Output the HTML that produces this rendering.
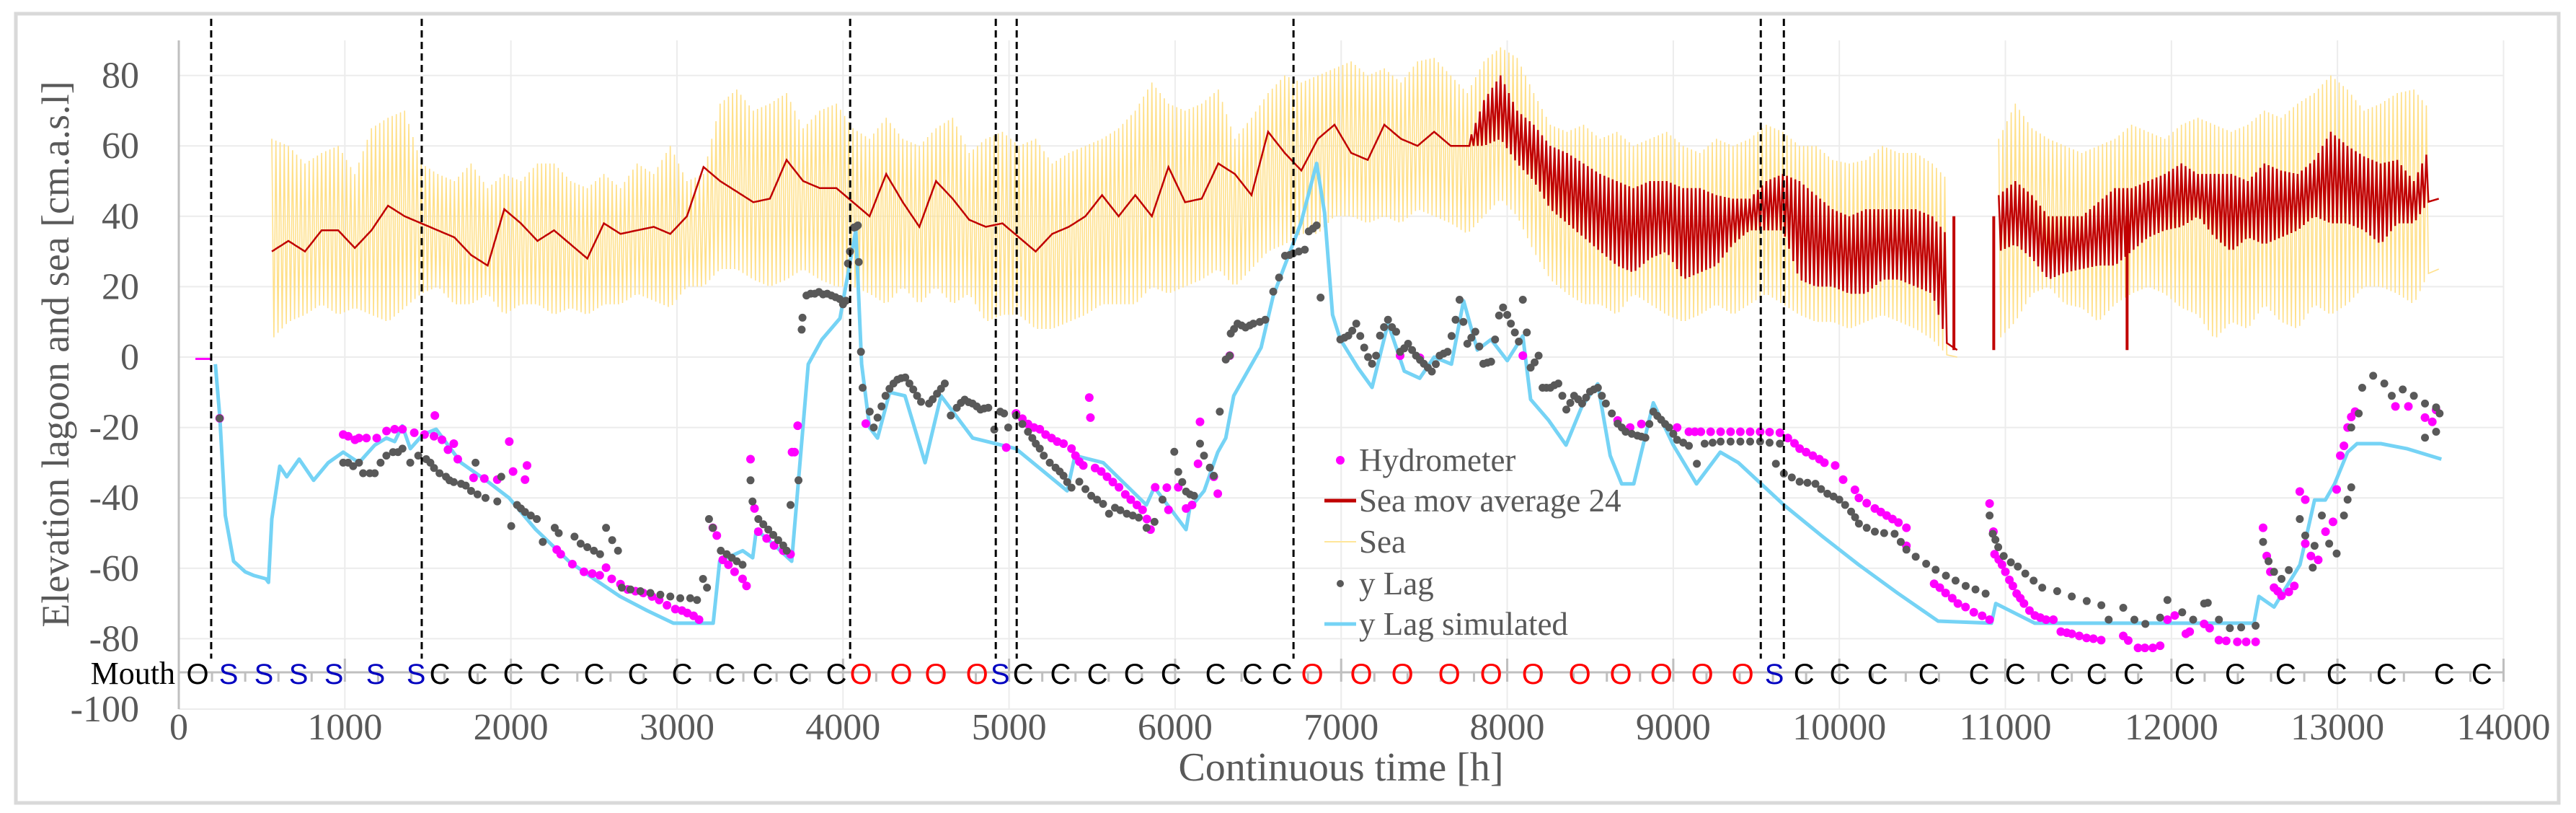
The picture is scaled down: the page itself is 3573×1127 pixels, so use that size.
<!DOCTYPE html>
<html><head><meta charset="utf-8"><style>
html,body{margin:0;padding:0;background:#fff;}
svg{display:block;}
text{font-family:"Liberation Serif",serif;}
</style></head>
<body>
<svg id="chart" xmlns="http://www.w3.org/2000/svg" width="3573" height="1127" viewBox="0 0 3573 1127">
<rect x="22" y="19" width="3527" height="1094" fill="#fff" stroke="#d9d9d9" stroke-width="5"/>
<g id="grid"></g>
<g id="series"></g>
<g id="axes"></g>
<g id="legend"></g>
</svg>
<script>
const yTicks=[80,60,40,20,0,-20,-40,-60,-80,-100];
const xTicks=[0,1000,2000,3000,4000,5000,6000,7000,8000,9000,10000,11000,12000,13000,14000];
const eventHours=[195,1463,4043,4920,5046,6713,9527,9666];
const mouthHours=[113,300,512,721,934,1185,1429,1572,1798,2015,2236,2501,2766,3031,3291,3517,3734,3960,4108,4351,4559,4807,4946,5085,5310,5532,5753,5975,6244,6466,6644,6826,7121,7369,7651,7903,8155,8437,8684,8928,9175,9418,9609,9787,10004,10230,10538,10842,11060,11329,11550,11772,12080,12384,12688,12996,13296,13643,13869];
const mouthStates=['O','S','S','S','S','S','S','C','C','C','C','C','C','C','C','C','C','C','O','O','O','O','S','C','C','C','C','C','C','C','C','O','O','O','O','O','O','O','O','O','O','O','S','C','C','C','C','C','C','C','C','C','C','C','C','C','C','C','C'];
const seaStart=560, seaStep=100;
const seaHigh=[62,60,55,58,60,52,65,68,70,55, 52,50,55,48,52,50,55,55,50,48, 52,48,55,52,60,50,52,72,76,70, 72,75,65,70,72,65,62,68,62,60, 65,68,58,62,64,60,62,55,58,60, 62,65,70,78,72,70,72,76,62,68, 75,80,78,80,82,84,80,82,78,84, 85,80,75,84,88,85,75,66,64,66, 62,64,60,62,64,60,58,62,60,62, 66,64,60,60,56,55,56,60,58,58, 55,50,null,null, 62,72,65,62,60,58, 60,62,66,64,62,66,68,66,64,66, 70,68,72,75,80,76,70,72,75,76, 70];
const seaLow=[5,10,12,15,12,14,12,10,14,18, 20,15,15,18,12,15,15,12,14,12, 15,15,18,16,14,20,20,25,25,22, 20,22,25,22,20,20,18,15,20,15, 20,15,18,10,12,12,8,8,10,12, 15,15,15,20,18,20,22,25,20,25, 30,32,35,35,40,40,38,40,38,42, 40,38,35,40,45,40,30,22,18,15, 15,12,18,15,12,10,12,15,12,15, 18,15,12,10,10,8,10,12,10,8, 5,0,null,null, 5,10,18,20,15,14, 10,15,18,20,18,14,12,5,10,8, 15,10,8,15,12,15,20,20,18,15, 25];
const maHigh=[30,33,30,36,36,31,36,43,40,38, 36,34,29,26,42,38,33,36,32,28, 38,35,36,37,35,40,54,50,47,44, 45,56,50,48,48,44,40,52,44,37, 50,45,39,37,38,34,30,35,37,40, 46,40,46,40,54,44,45,55,52,46, 64,58,53,62,66,58,56,66,62,60, 64,60,60,73,80,70,66,60,58,55, 52,50,48,50,50,48,48,46,45,45, 50,52,50,46,42,40,42,42,42,42, 40,34,null,null, 46,50,46,40,40,40, 44,48,48,50,52,55,52,52,52,50, 55,53,52,56,64,60,57,55,56,50, 60];
const maLow=[30,33,30,36,36,31,36,43,40,38, 36,34,29,26,42,38,33,36,32,28, 38,35,36,37,35,40,54,50,47,44, 45,56,50,48,48,44,40,52,44,37, 50,45,39,37,38,34,30,35,37,40, 46,40,46,40,54,44,45,55,52,46, 64,58,53,62,66,58,56,66,62,60, 64,60,60,60,62,55,50,42,38,34, 30,26,24,28,30,22,24,26,32,36, 36,36,22,20,20,18,18,22,22,20, 18,2,null,null, 30,32,28,22,24,25, 26,26,30,34,36,37,40,34,30,34, 32,34,36,40,38,38,36,32,38,38, 45];
const maSpikeHours=[10690,10930,11733];
const maSpikeLows=[2,2,2];
const simHours=[220,247,280,330,400,450,525,540,560,608,650,725,812,900,990,1085,1180,1250,1300,1346,1394,1470,1550,1700,1850,1989,2150,2349,2500,2657,2820,2979,3218,3257,3396,3456,3478,3600,3691,3791,3873,3982,4077,4112,4160,4208,4281,4373,4494,4590,4781,5041,5350,5397,5567,5827,5875,6066,6088,6175,6257,6305,6353,6518,6591,6757,6852,6900,6948,6995,7100,7186,7282,7380,7473,7560,7664,7737,7820,7903,8000,8094,8141,8250,8354,8450,8545,8620,8689,8762,8880,9000,9140,9283,9392,9666,9900,10117,10350,10595,10916,10942,11177,12497,12527,12618,12774,12862,12927,12983,13061,13118,13261,13417,13626];
const simValues=[-2,-17,-45,-58,-61,-62,-63,-64,-46,-31,-34,-29,-35,-30,-27,-30,-25,-23,-24,-19.5,-26,-22,-20.5,-30,-35,-40,-49,-58,-63,-68,-72,-75.6,-75.6,-58,-55,-57,-49,-54,-58,-2,5,11,36,-2,-20,-23,-10,-11,-30,-11,-23,-26,-38,-28,-30,-42,-37,-49,-43,-38,-27,-23,-11,2.7,17.4,38,55,41,12,5,-3,-8.6,9.6,-4,-6,0,-2,16,2,5,-1,6,-12,-18,-25,-14,-7.6,-28,-36,-36,-13,-25,-36,-27,-30,-42,-51,-59,-67,-75,-75.6,-70,-75.6,-75.6,-68,-71,-59,-40.6,-40.6,-36,-27,-24.6,-24.6,-26,-29];
const hydroPoints=[[246,-17.4],[990,-22],[1020,-22.5],[1061,-23.5],[1085,-23],[1130,-23],[1192,-23],[1251,-21],[1300,-20.5],[1347,-20.5],[1418,-21.5],[1480,-22],[1537,-22.5],[1542,-16.6],[1585,-23.5],[1621,-26.3],[1656,-24.6],[1680,-29],[1775,-34.3],[1840,-34.5],[1918,-34.8],[1990,-24],[2013,-32.5],[2085,-34.8],[2097,-30.8],[2276,-54.7],[2300,-56],[2370,-58.8],[2440,-61],[2490,-61.5],[2535,-62],[2573,-59.8],[2607,-63],[2660,-64.5],[2703,-66],[2750,-66.5],[2797,-67],[2850,-68],[2893,-69],[2940,-70.5],[2990,-71.6],[3030,-72],[3062,-72.7],[3100,-73.5],[3133,-74.6],[3216,-48.5],[3240,-50.7],[3276,-57.6],[3310,-59],[3347,-61],[3395,-63],[3419,-65],[3443,-29],[3467,-43],[3490,-49.6],[3540,-51.5],[3585,-53.5],[3640,-55],[3684,-56],[3693,-27],[3708,-27],[3727,-19.5],[4137,-18.9],[4983,-25.7],[5042,-16],[5080,-17.5],[5114,-19],[5150,-20],[5185,-20.5],[5220,-22],[5256,-23],[5290,-24],[5328,-24.6],[5376,-26],[5400,-28],[5423,-29.7],[5447,-30.8],[5483,-11.5],[5490,-17.2],[5518,-31.5],[5555,-32.5],[5590,-34],[5625,-35.5],[5662,-37],[5700,-39],[5733,-40.5],[5770,-42],[5804,-43.4],[5830,-46],[5852,-49],[5880,-37],[5950,-37.1],[5960,-43.4],[6019,-37],[6066,-43],[6102,-42],[6138,-30.3],[6150,-18.4],[6233,-34],[6257,-38.8],[6329,0.4],[7355,0.4],[7474,-0.2],[8094,0.4],[8665,-18],[8740,-20],[8808,-19],[9023,-20],[9094,-21.2],[9130,-21.2],[9166,-21.2],[9225,-21.2],[9285,-21.2],[9345,-21.2],[9404,-21.2],[9463,-21.2],[9523,-21.2],[9580,-21.3],[9642,-21.5],[9690,-23],[9730,-24.5],[9761,-26],[9800,-27],[9840,-28],[9880,-29],[9910,-30],[9975,-30.8],[10023,-34.8],[10094,-37.7],[10118,-40],[10165,-41.5],[10214,-43],[10250,-44],[10285,-45],[10320,-46],[10356,-47],[10404,-48.5],[10404,-53.6],[10571,-64.4],[10605,-65.5],[10640,-67],[10680,-68.5],[10714,-70],[10760,-71],[10810,-72.5],[10860,-73.5],[10905,-74.6],[10905,-41.6],[10928,-49.6],[10935,-56],[10960,-57.5],[10980,-59],[11000,-61],[11024,-63.3],[11045,-65],[11068,-67.2],[11090,-68.5],[11112,-70],[11145,-72],[11178,-73.4],[11210,-74],[11245,-74.6],[11289,-74.6],[11334,-78],[11370,-78.3],[11400,-78.6],[11445,-79.2],[11489,-79.8],[11530,-80],[11577,-80.4],[11710,-79.2],[11740,-80.5],[11799,-82.6],[11840,-82.6],[11888,-82.6],[11932,-82],[11976,-74.6],[12020,-73.4],[12087,-78.6],[12110,-78],[12197,-75.8],[12230,-77],[12286,-80.4],[12330,-80.6],[12397,-80.9],[12450,-80.9],[12507,-80.9],[12552,-48.5],[12574,-56.5],[12596,-61],[12618,-65.5],[12640,-66.5],[12663,-67.8],[12707,-66.7],[12740,-65],[12773,-38.2],[12806,-40.5],[12806,-53],[12840,-56.5],[12884,-57.6],[12928,-49.6],[12973,-46.8],[12995,-37.6],[13017,-28],[13039,-25.2],[13061,-20],[13083,-17],[13106,-15.5],[13349,-14],[13427,-14],[13527,-17.2],[13571,-18.4],[13594,-15]];
const lagPoints=[[246,-17.4],[990,-30],[1020,-30],[1050,-31],[1085,-30],[1110,-33],[1150,-33],[1180,-33],[1215,-30],[1250,-28],[1290,-27],[1320,-27],[1347,-26],[1394,-30],[1442,-28],[1490,-29],[1515,-30],[1537,-31.5],[1570,-33],[1609,-34],[1630,-35],[1656,-35.5],[1700,-36],[1728,-36.5],[1760,-38],[1787,-30],[1799,-39],[1847,-40],[1918,-41],[1942,-34],[2002,-48],[2037,-42],[2060,-43],[2085,-44],[2120,-45],[2156,-46],[2192,-52.5],[2264,-48.5],[2288,-50],[2383,-51],[2420,-53],[2460,-54],[2500,-55],[2537,-56],[2573,-48.5],[2610,-52],[2645,-55],[2668,-65.5],[2720,-66],[2780,-66.5],[2840,-67],[2900,-67.5],[2960,-68],[3020,-68.5],[3080,-68.5],[3121,-69],[3157,-63],[3181,-65.5],[3193,-46],[3216,-48.5],[3264,-55],[3300,-56],[3330,-57],[3360,-58],[3395,-59],[3443,-35],[3455,-41],[3490,-46],[3520,-47.5],[3550,-49],[3580,-50.5],[3610,-52],[3640,-53.5],[3661,-55],[3684,-42],[3732,-35],[3751,7.8],[3756,11.2],[3780,17.5],[3805,18],[3830,18],[3855,18.5],[3880,17.8],[3905,18],[3930,17.5],[3955,17],[3980,16.5],[4000,15],[4018,16],[4030,26.6],[4042,30],[4066,36.8],[4078,37],[4089,37.4],[4095,27],[4108,1.5],[4118,-8.7],[4161,-15.5],[4185,-20],[4208,-17.2],[4232,-14],[4256,-11],[4280,-9],[4304,-7.5],[4328,-6.4],[4350,-6],[4375,-5.8],[4400,-7.5],[4423,-9.2],[4446,-11],[4470,-12.7],[4518,-13.2],[4540,-12],[4566,-10.4],[4590,-9],[4613,-7.5],[4649,-16.6],[4685,-14.4],[4710,-13],[4733,-12.1],[4756,-12.8],[4780,-13.2],[4805,-14],[4828,-14.9],[4850,-14.6],[4875,-14.4],[4911,-20.6],[4947,-15.5],[4970,-16],[4995,-20],[5042,-16.6],[5080,-19],[5114,-21.2],[5140,-23],[5161,-24.6],[5185,-26],[5209,-28],[5245,-30],[5280,-31.4],[5305,-32.5],[5328,-33.7],[5350,-35.5],[5376,-37.1],[5423,-35.4],[5460,-37.5],[5495,-39.4],[5530,-40.5],[5566,-41.7],[5602,-44.5],[5638,-42.8],[5670,-43.5],[5709,-44.5],[5745,-45],[5781,-45.6],[5828,-48.5],[5876,-46.8],[5924,-40.5],[5995,-26.9],[6019,-32.6],[6043,-35.5],[6066,-38.2],[6090,-39],[6114,-39.4],[6150,-24.6],[6174,-28],[6209,-31.4],[6233,-33.7],[6269,-15.5],[6305,-0.7],[6329,0.4],[6335,6.7],[6355,8],[6376,9.5],[6400,9],[6424,8.4],[6450,9],[6471,9.5],[6510,10],[6543,10.6],[6591,18.6],[6626,22.6],[6662,28.8],[6690,29],[6710,29.4],[6745,30],[6781,30.5],[6805,35.7],[6830,36.5],[6852,37.4],[6876,16.9],[6995,5],[7020,5.5],[7043,6.1],[7067,7.5],[7091,9.5],[7115,6],[7139,2.7],[7162,0],[7186,-1.9],[7210,0.4],[7234,6.1],[7258,8.5],[7282,10.6],[7306,8.5],[7331,7.2],[7355,1.5],[7380,2.5],[7403,3.8],[7427,2],[7451,0.4],[7475,-0.8],[7498,-1.9],[7522,-3],[7546,-4.1],[7570,-2],[7593,0.4],[7617,1],[7641,1.5],[7665,6],[7689,10.6],[7713,16.3],[7736,10],[7760,3.8],[7784,5.5],[7808,7.2],[7832,3],[7856,-1.9],[7880,-1.6],[7903,-1.3],[7927,5],[7951,11.8],[7975,14.1],[8000,12],[8022,9.5],[8046,7],[8070,4.4],[8094,16.3],[8118,7],[8141,-3],[8165,-1.5],[8189,0.4],[8213,-8.7],[8236,-8.7],[8260,-8.7],[8284,-8],[8308,-7.5],[8332,-11],[8356,-14.9],[8380,-13],[8403,-11],[8427,-12],[8451,-13.2],[8475,-11.5],[8499,-9.8],[8522,-9.2],[8546,-8.7],[8570,-11],[8594,-13.2],[8630,-16],[8665,-18.9],[8690,-20],[8713,-21.2],[8750,-21.8],[8784,-22.3],[8808,-22.6],[8832,-22.9],[8856,-19],[8880,-15.5],[8904,-16.7],[8927,-17.8],[8951,-19],[8975,-20],[9000,-21.8],[9023,-23.5],[9060,-24.3],[9094,-25.2],[9142,-30.3],[9189,-24.6],[9237,-24.3],[9285,-24],[9345,-24],[9404,-24],[9463,-24],[9523,-24],[9580,-24.3],[9618,-30.3],[9642,-24.6],[9666,-33.1],[9714,-34.2],[9761,-35.4],[9808,-35.7],[9856,-36],[9890,-37.5],[9928,-38.8],[9965,-39.6],[10000,-40.5],[10035,-42],[10071,-43.9],[10095,-45.5],[10118,-47.3],[10165,-48.5],[10214,-49.6],[10270,-50],[10333,-50.2],[10370,-52.5],[10404,-54.7],[10460,-56.7],[10523,-58.7],[10580,-60.4],[10642,-62.1],[10700,-63.5],[10761,-65],[10820,-66],[10881,-67.2],[10905,-45],[10924,-50.2],[10940,-51.9],[10957,-54],[10990,-56.5],[11033,-58.3],[11075,-59.5],[11120,-61.5],[11170,-63.5],[11222,-65.5],[11312,-66.5],[11400,-68],[11490,-69.3],[11578,-70.5],[11622,-74.6],[11710,-71.2],[11777,-74.6],[11843,-75.8],[11932,-74],[11976,-69],[12065,-72.5],[12131,-74.6],[12197,-70],[12219,-69.8],[12286,-74.6],[12352,-77],[12420,-76.8],[12507,-76.3],[12552,-52.5],[12585,-58],[12618,-61],[12663,-63],[12707,-60.5],[12773,-46],[12806,-50.7],[12851,-59.8],[12862,-53.6],[12906,-45],[12950,-53],[12995,-55.8],[13039,-45],[13061,-40.5],[13083,-37],[13083,-20],[13128,-16],[13149,-8.7],[13215,-5.3],[13282,-7.5],[13327,-11],[13393,-9.2],[13460,-11],[13527,-13.2],[13594,-14.3],[13615,-16],[13527,-22.9],[13594,-21.2]];

const NS='http://www.w3.org/2000/svg';
function X(h){return 248+h*0.23032;}
function Y(v){return 495-v*4.88;}
function mk(tag,attrs,parent){const e=document.createElementNS(NS,tag);for(const k in attrs)e.setAttribute(k,attrs[k]);parent.appendChild(e);return e;}
const grid=document.getElementById('grid'),series=document.getElementById('series'),axes=document.getElementById('axes'),legend=document.getElementById('legend');
const PL=X(0),PR=X(14000),PT=56,PB=Y(-100);
yTicks.forEach(v=>{const l=mk('line',{x1:PL,x2:PR,y1:Y(v),y2:Y(v),stroke:'#ececec','stroke-width':2},grid);

});
xTicks.forEach(h=>{const l=mk('line',{x1:X(h),x2:X(h),y1:PT,y2:PB,stroke:'#ececec','stroke-width':2},grid);

});
function bandPath(hi,lo,start,step,sub){
 let d='',pen=false;
 for(let i=0;i<hi.length;i++){
  if(hi[i]===null||i+1>=hi.length||hi[i+1]===null){
   if(hi[i]!==null&&(i+1>=hi.length||hi[i+1]===null)){ if(!pen){d+='M'+X(start+i*step).toFixed(1)+' '+Y(hi[i]).toFixed(1);} d+='L'+X(start+i*step+step*0.5).toFixed(1)+' '+Y(lo[i]).toFixed(1);}
   pen=false;continue;}
  for(let k=0;k<sub;k++){
   const f=k/sub,t=start+(i+f)*step;
   const hv=hi[i]+(hi[i+1]-hi[i])*f,lv=lo[i]+(lo[i+1]-lo[i])*f;
   const v=(k%2===0)?hv:lv;
   d+=(pen?'L':'M')+X(t).toFixed(1)+' '+Y(v).toFixed(1);pen=true;}
 }
 return d;}
const sea=mk('path',{d:bandPath(seaHigh,seaLow,seaStart,seaStep,8),fill:'none',stroke:'#FFE08A','stroke-width':1.6},series);


const ma=mk('path',{d:bandPath(maHigh,maLow,seaStart,seaStep,8),fill:'none',stroke:'#C00000','stroke-width':2.5},series);


maSpikeHours.forEach((h,i)=>{const l=mk('line',{x1:X(h),x2:X(h),y1:Y(40),y2:Y(maSpikeLows[i]),stroke:'#C00000','stroke-width':4},series);

});
const hz=mk('line',{x1:X(100),x2:X(200),y1:Y(-0.5),y2:Y(-0.5),stroke:'#FF00FF','stroke-width':3},series);


let sd='';simHours.forEach((h,i)=>{sd+=(i?'L':'M')+X(h).toFixed(1)+' '+Y(simValues[i]).toFixed(1);});
const sim=mk('path',{d:sd,fill:'none',stroke:'#75D3F5','stroke-width':5,'stroke-linejoin':'round'},series);


hydroPoints.forEach(p=>{const c=mk('circle',{cx:X(p[0]),cy:Y(p[1]),r:6,fill:'#FF00FF'},series);

});
lagPoints.forEach(p=>{const c=mk('circle',{cx:X(p[0]),cy:Y(p[1]),r:5.5,fill:'#595959'},series);

});
eventHours.forEach(h=>{const l=mk('line',{x1:X(h),x2:X(h),y1:26,y2:913,stroke:'#000','stroke-width':3,'stroke-dasharray':'10 6'},series);

});
const ya=mk('line',{x1:PL,x2:PL,y1:PT,y2:PB,stroke:'#bfbfbf','stroke-width':3},axes);


yTicks.forEach(v=>{const t=mk('text',{x:193,y:Y(v)+17,'text-anchor':'end','font-size':52,fill:'#595959'},axes);t.textContent=v;

});
xTicks.forEach(h=>{const t=mk('text',{x:X(h),y:1025,'text-anchor':'middle','font-size':52,fill:'#595959'},axes);t.textContent=h;

});
const yt=mk('text',{x:0,y:0,transform:'translate(95 491) rotate(-90)','text-anchor':'middle','font-size':54,fill:'#595959'},axes);yt.textContent='Elevation lagoon and sea [cm.a.s.l]';


const xt=mk('text',{x:1860,y:1082,'text-anchor':'middle','font-size':56,fill:'#595959'},axes);xt.textContent='Continuous time [h]';


const MY=932;
const ma2=mk('line',{x1:PL,x2:PR,y1:MY,y2:MY,stroke:'#bfbfbf','stroke-width':3},axes);


for(let h=0;h<=14000;h+=200){const major=h%1000===0;const l=mk('line',{x1:X(h),x2:X(h),y1:major?913:MY,y2:945,stroke:'#bfbfbf','stroke-width':3},axes);

}
const mt=mk('text',{x:243,y:948,'text-anchor':'end','font-size':44,fill:'#000'},axes);mt.textContent='Mouth';


mouthHours.forEach((h,i)=>{const s=mouthStates[i];const col=s==='S'?'#0000C0':(s==='O'&&h>1000?'#FF0000':'#000');
const t=mk('text',{x:X(h),y:948,'text-anchor':'middle','font-size':40,fill:col,style:'font-family:"Liberation Sans",sans-serif'},axes);t.textContent=s;

});
const LX=1837,LT=1885;
const items=[['Hydrometer','dot','#FF00FF',638],['Sea mov average 24','line','#C00000',694],['Sea','line','#FFE699',751],['y Lag','dot','#595959',809],['y Lag simulated','line','#75D3F5',865]];
items.forEach(it=>{
 let m;
 if(it[1]==='dot'){m=mk('circle',{cx:1859,cy:it[3],r:it[2]==='#FF00FF'?6:5,fill:it[2]},legend);}
 else{m=mk('line',{x1:LX,x2:1881,y1:it[3],y2:it[3],stroke:it[2],'stroke-width':it[2]==='#FFE699'?2:5},legend);}
 
 
 const t=mk('text',{x:LT,y:it[3]+15,'font-size':45,fill:'#595959'},legend);t.textContent=it[0];
 
 
});
</script>
</body></html>
